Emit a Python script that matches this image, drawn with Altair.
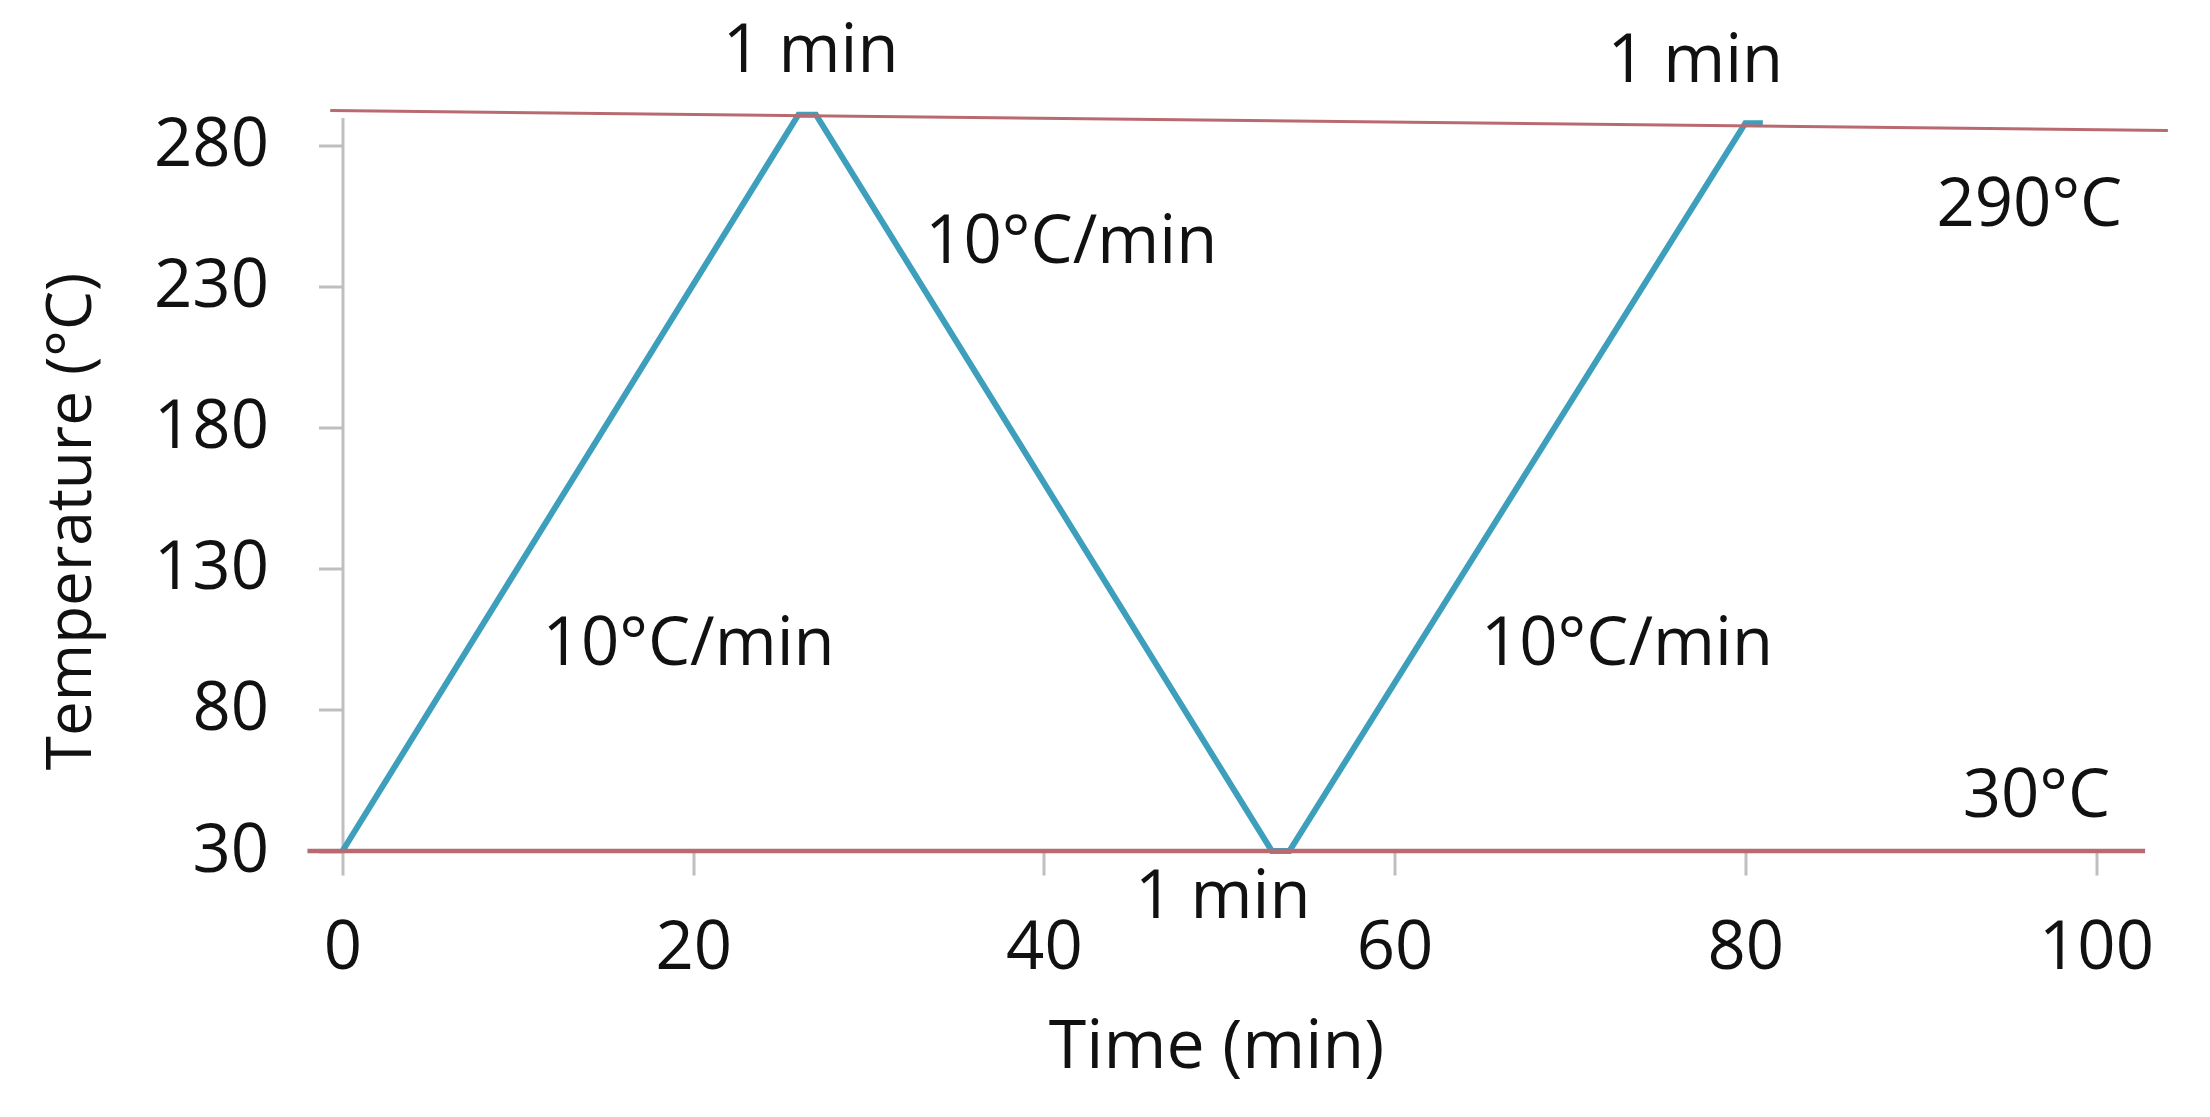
import altair as alt
import pandas as pd

# Temperature program
time_min = [0, 26, 27, 53, 54, 80, 81]
temp_c = [30, 291, 291, 30, 30, 288, 288]

# Reference lines (290 °C and 30 °C levels as drawn)
top_ref_x = [-0.7, 104.1]
top_ref_y = [292.5, 285.4]
bottom_ref_x = [-2.0, 102.8]
bottom_ref_y = [30, 30]

# Annotations
note_text = ["1 min", "1 min", "1 min", "10°C/min", "10°C/min", "10°C/min", "290°C", "30°C"]
note_x = [26.7, 77.15, 50.2, 19.74, 41.56, 73.25, 96.2, 96.6]
note_y = [306.0, 302.5, 6.2, 96.0, 238.6, 96.0, 251.4, 42.2]

x_ticks = [0, 20, 40, 60, 80, 100]
y_ticks = [30, 80, 130, 180, 230, 280]

FONT = "Open Sans"
LINE_COLOR = "#3d9fbc"
REF_COLOR = "#b96a70"
AXIS_GRAY = "#bfbfbf"

xs = alt.Scale(domain=[0, 100], nice=False, zero=False)
ys = alt.Scale(domain=[30, 290], nice=False, zero=False)

profile = pd.DataFrame({"t": time_min, "T": temp_c})
top_ref = pd.DataFrame({"t": top_ref_x, "T": top_ref_y})
bottom_ref = pd.DataFrame({"t": bottom_ref_x, "T": bottom_ref_y})
notes = pd.DataFrame({"t": note_x, "T": note_y, "label": note_text})

x_axis = alt.Axis(
    values=x_ticks,
    title="Time (min)",
    titleFontSize=68,
    titleBaseline="alphabetic",
    titleAlign="center",
    titleX=873.5,
    titleY=216,
    labelPadding=40,
    labelFlush=False,
    labelOverlap=False,
)
y_axis = alt.Axis(
    values=y_ticks,
    title="Temperature (°C)",
    titleFontSize=62,
    titleAngle=270,
    titleBaseline="alphabetic",
    titleAlign="center",
    titleX=-252.5,
    titleY=403.5,
    labelPadding=50,
    labelFlush=False,
    labelOverlap=False,
)

X = alt.X("t:Q", scale=xs, axis=x_axis)
Y = alt.Y("T:Q", scale=ys, axis=y_axis)

line = alt.Chart(profile).mark_line(color=LINE_COLOR, strokeWidth=6).encode(
    x=X, y=Y, order=alt.Order("t:Q"),
)

top_line = alt.Chart(top_ref).mark_line(color=REF_COLOR, strokeWidth=3).encode(x=X, y=Y)

bottom_line = alt.Chart(bottom_ref).mark_line(color=REF_COLOR, strokeWidth=4.5).encode(x=X, y=Y)

text = alt.Chart(notes).mark_text(
    font=FONT, fontSize=67, align="center", baseline="alphabetic", color="#111111"
).encode(x=X, y=Y, text="label:N")

chart = (
    alt.layer(line, top_line, bottom_line, text)
    .properties(
        width=1753.5,
        height=733.5,
        autosize=alt.AutoSizeParams(type="none"),
        padding={"left": 334.5, "top": 109.5, "right": 100, "bottom": 250},
        background="white",
    )
    .configure_view(stroke="transparent")
    .configure_axis(
        grid=False,
        domainColor=AXIS_GRAY,
        domainWidth=3,
        tickColor=AXIS_GRAY,
        tickWidth=3,
        tickSize=24,
        labelFont=FONT,
        labelFontSize=67,
        labelColor="#111111",
        titleFont=FONT,
        titleFontWeight="normal",
        titleColor="#111111",
    )
)

chart.save("out.html", embed_options={"renderer": "svg", "actions": False})
